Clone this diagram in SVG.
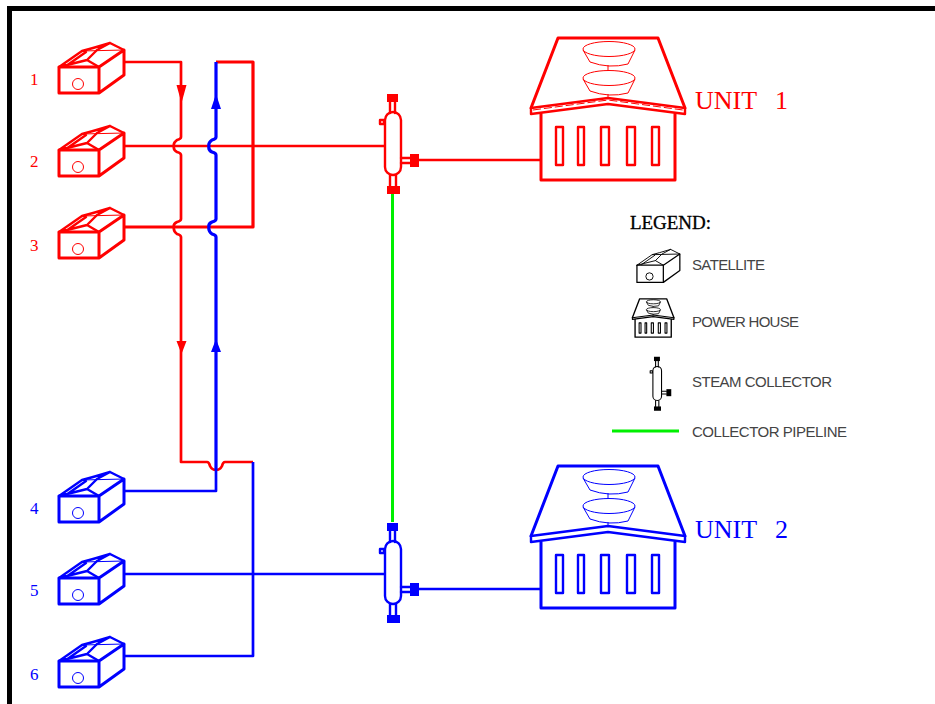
<svg xmlns="http://www.w3.org/2000/svg" xmlns:xlink="http://www.w3.org/1999/xlink" width="935" height="704" viewBox="0 0 935 704">
<style>
.red{color:#ff0000}.blue{color:#0000ff}.blk{color:#000}
.pipe{fill:none;stroke-width:2.7;stroke-linejoin:round}
.r{stroke:#ff0000}.b{stroke:#0000ff}
.heavy{stroke-width:3.2}
.thick{fill:none;stroke:currentColor;stroke-width:var(--t,3);stroke-linejoin:round;stroke-linecap:round}
.med{fill:none;stroke:currentColor;stroke-width:var(--m,2.4);stroke-linejoin:round;stroke-linecap:round}
.thin{fill:none;stroke:currentColor;stroke-width:var(--n,1)}
.solid{fill:currentColor;stroke:none}
.num{font-family:"Liberation Serif",serif;font-size:17px}
.unit{font-family:"Liberation Serif",serif;font-size:26px}
.leg{font-family:"Liberation Sans",sans-serif;font-size:15px;fill:#444}
.title{font-family:"Liberation Serif",serif;font-size:19px;fill:#000;stroke:#000;stroke-width:.3}
.pipeline{fill:none;stroke:#00f000;stroke-width:3}
</style>
<defs>
<g id="sat">
<path class="thick" d="M59 67H99V93H59ZM99 67L124 50V75L99 93"/>
<path class="med" d="M59 67L82 51L93 48L110 43L124 50M59 67L87 60L99 67M87 60L97 50L110 43M66 66L86 52"/>
<path class="thin" d="M82 51L124 50"/>
<circle class="thin" cx="78" cy="84" r="5.500"/>
</g>
<g id="house">
<path class="thick" d="M541 542V608H675V542"/>
<path class="thick" d="M531 536L558 466H658L685 536"/>
<path class="med" d="M531 536L608 526L685 536V542L608 532L531 542Z"/>
<path class="med" d="M556 555h7v38h-7ZM578 555h6v38h-6ZM601 555h8v38h-8ZM627 555h8v38h-8ZM652 555h7v38h-7Z"/>
<g id="dome">
<ellipse class="thin" cx="609" cy="477" rx="26" ry="7.500"/>
<path class="thin" d="M583 478L590 490Q609 497 628 492L635 478"/>
</g>
<use xlink:href="#dome" href="#dome" y="29"/>
<path class="thin" d="M608 493V499M608 522V526"/>
</g>
<g id="coll">
<rect class="solid" x="387" y="94" width="11" height="8"/>
<rect class="solid" x="387" y="186" width="13" height="8"/>
<rect class="solid" x="410" y="154" width="9" height="13"/>
<path class="med" d="M390 102V113M395 102V113M390 175V186M396 175V186M401 158H410M401 163H410"/>
<rect class="med" x="385" y="112" width="16" height="63" rx="8" ry="8"/>
<rect class="med" x="380" y="120" width="4" height="4"/>
</g>
</defs>
<g id="frame"><path d="M9.500 704V8.500H935" fill="none" stroke="#000" stroke-width="5"/></g>
<g id="connectors">
<path class="pipe r" d="M124 62H181V137Q181 139 177 140Q173 143 174 146Q173 150 177 152Q181 153 181 155V219Q181 221 177 222Q173 224 174 227Q173 231 177 234Q181 235 181 237V462H207Q209 462 210 466Q212 470 216 470Q220 470 222 466Q223 462 225 462H253"/>
<path class="pipe r" d="M124 146H386"/>
<path class="pipe r heavy" d="M124 227H253V62H216"/>
<path class="pipe r" d="M419 160H540"/>
<path class="pipe b heavy" d="M216 62V137Q216 139 212 140Q208 143 209 146Q208 150 212 152Q216 153 216 155V219Q216 221 212 222Q208 224 209 227Q208 231 212 234Q216 235 216 237V470"/>
<path class="pipe b" d="M216 470V491H124"/>
<path class="pipe b" d="M253 462V656H124"/>
<path class="pipe b" d="M124 574H386"/>
<path class="pipe b" d="M419 589H540"/>
<path class="pipeline" d="M392.500 194V522"/>
<path fill="#ff0000" d="M176.500 85H186.500L181.500 103ZM176.500 341H186.500L181.500 354Z"/>
<path fill="#0000ff" d="M216 94L221 109H211ZM216 339L221 352H211Z"/>
</g>
<g id="satellite-1" class="red"><use xlink:href="#sat" href="#sat"/><text class="num" x="30" y="85" fill="#ff0000">1</text></g>
<g id="satellite-2" class="red"><use xlink:href="#sat" href="#sat" y="83"/><text class="num" x="30" y="167" fill="#ff0000">2</text></g>
<g id="satellite-3" class="red"><use xlink:href="#sat" href="#sat" y="165"/><text class="num" x="30" y="251" fill="#ff0000">3</text></g>
<g id="satellite-4" class="blue"><use xlink:href="#sat" href="#sat" y="429"/><text class="num" x="30" y="514" fill="#0000ff">4</text></g>
<g id="satellite-5" class="blue"><use xlink:href="#sat" href="#sat" y="511"/><text class="num" x="30" y="596" fill="#0000ff">5</text></g>
<g id="satellite-6" class="blue"><use xlink:href="#sat" href="#sat" y="594"/><text class="num" x="30" y="680" fill="#0000ff">6</text></g>
<g id="collector-1" class="red"><use xlink:href="#coll" href="#coll"/></g>
<g id="collector-2" class="blue"><use xlink:href="#coll" href="#coll" y="429"/></g>
<g id="unit-1" class="red"><use xlink:href="#house" href="#house" y="-428"/><path class="thin" stroke-dasharray="8 3" d="M533 110L608 100L683 110"/><text class="unit" x="695" y="109" fill="#ff0000">UNIT <tspan x="775">1</tspan></text></g>
<g id="unit-2" class="blue"><use xlink:href="#house" href="#house"/><text class="unit" x="695" y="538" fill="#0000ff">UNIT <tspan x="775">2</tspan></text></g>
<g id="legend" class="blk">
<text class="title" x="630" y="229" textLength="81">LEGEND:</text>
<g id="legend-satellite" style="--t:1.900;--m:1.400;--n:1.400"><use xlink:href="#sat" href="#sat" transform="translate(598 221) scale(.66)"/><text class="leg" x="692" y="270" textLength="73">SATELLITE</text></g>
<g id="legend-powerhouse" style="--t:5;--m:4;--n:3"><use xlink:href="#house" href="#house" transform="translate(489 173) scale(.27)"/><text class="leg" x="692" y="327" textLength="107">POWER HOUSE</text></g>
<g id="legend-collector" style="--t:2;--m:2;--n:1.600"><use xlink:href="#coll" href="#coll" transform="translate(445 306) scale(.54)"/><text class="leg" x="692" y="387" textLength="140">STEAM COLLECTOR</text></g>
<g id="legend-pipeline"><path class="pipeline" d="M612 431H679"/><text class="leg" x="692" y="437" textLength="155">COLLECTOR PIPELINE</text></g>
</g>
</svg>
